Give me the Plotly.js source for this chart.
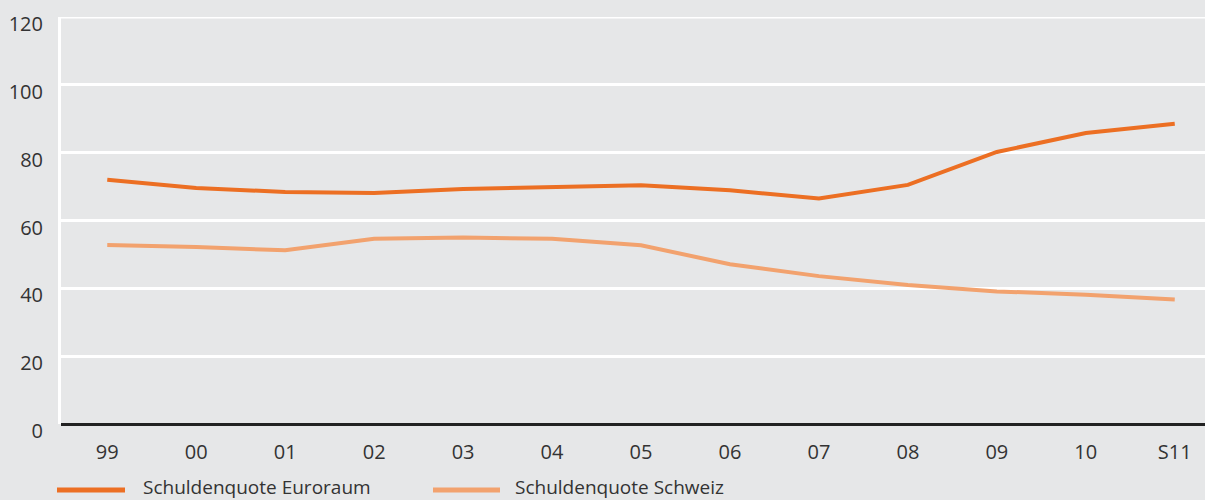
<!DOCTYPE html>
<html>
<head>
<meta charset="utf-8">
<script src="https://cdn.plot.ly/plotly-3.0.1.min.js"></script>
<style>html,body{margin:0;padding:0;background:#e6e7e8;}#chart{width:1205px;height:500px;}</style>
</head>
<body>
<div id="chart"></div>
<script>
const categories = ["99","00","01","02","03","04","05","06","07","08","09","10","S11"];
const seriesNames = ["Schuldenquote Euroraum", "Schuldenquote Schweiz"];
const euroraum = [72.0, 69.6, 68.4, 68.1, 69.3, 69.8, 70.4, 68.9, 66.5, 70.5, 80.2, 85.8, 88.5];
const schweiz = [52.8, 52.2, 51.2, 54.6, 55.0, 54.6, 52.7, 47.1, 43.6, 41.0, 39.1, 38.1, 36.7];
const yTicks = [0, 20, 40, 60, 80, 100, 120];
const colors = ["#ec6f23", "#f2a26e"];

const tickFont = {family: "Open Sans, sans-serif", size: 20, color: "#333333"};
const legendFont = {family: "Open Sans, sans-serif", size: 19, color: "#333333"};
const W = 1205, H = 500, L = 61, R = 0, T = 17, B = 76;
const pw = W - L - R, ph = H - T - B;
const px2x = p => (p - L) / pw;
const px2y = p => (H - B - p) / ph;

const traces = [euroraum, schweiz].map((vals, i) => ({
  type: "scatter", mode: "lines", x: categories, y: vals, name: seriesNames[i],
  line: {color: colors[i], width: 4}, showlegend: false, hoverinfo: "x+y"
}));

const legendPos = [{x0: 57, x1: 125, tx: 143}, {x0: 433, x1: 500, tx: 515}];
const legendLineY = 490, legendTextY = 487;
const shapes = [
  {type: "line", xref: "paper", yref: "y", x0: 0, x1: 1, y0: yTicks[yTicks.length - 1], y1: yTicks[yTicks.length - 1],
   line: {color: "#ffffff", width: 3}, layer: "below"}
];
const annotations = [];
seriesNames.forEach((n, i) => {
  shapes.push({type: "line", xref: "paper", yref: "paper",
    x0: px2x(legendPos[i].x0), x1: px2x(legendPos[i].x1), y0: px2y(legendLineY), y1: px2y(legendLineY),
    line: {color: colors[i], width: 5}});
  annotations.push({xref: "paper", yref: "paper", x: px2x(legendPos[i].tx), y: px2y(legendTextY),
    xanchor: "left", yanchor: "middle", text: n, showarrow: false, font: legendFont,
    borderpad: 0, borderwidth: 0});
});

const layout = {
  width: W, height: H,
  margin: {l: L, r: R, t: T, b: B, pad: 0},
  paper_bgcolor: "#e6e7e8", plot_bgcolor: "#e6e7e8",
  font: tickFont,
  xaxis: {type: "category", range: [-0.52, 12.34], showgrid: false, zeroline: false,
    showline: false, ticks: "", tickfont: tickFont, ticklabelstandoff: 14},
  yaxis: {range: [0, 120], tickvals: yTicks, ticktext: yTicks.map(String),
    showgrid: true, gridcolor: "#ffffff", gridwidth: 3, zeroline: true,
    zerolinecolor: "#222222", zerolinewidth: 3, showline: true, linecolor: "#ffffff",
    linewidth: 3, ticks: "", tickfont: tickFont, ticklabelshift: 7, ticklabelstandoff: 11},
  shapes: shapes, annotations: annotations, showlegend: false
};
Plotly.newPlot("chart", traces, layout, {displayModeBar: false, staticPlot: true});
</script>
</body>
</html>
